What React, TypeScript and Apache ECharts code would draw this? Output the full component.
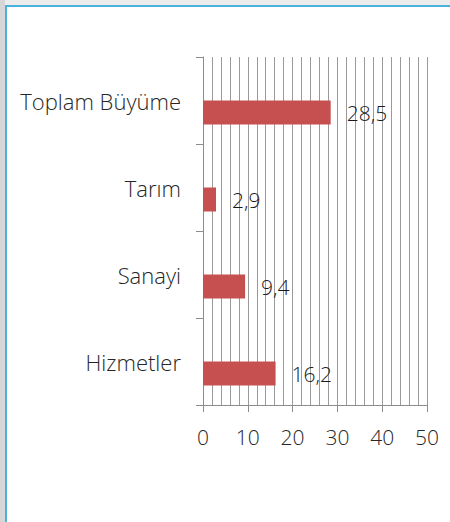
import React, { useEffect, useRef } from "react";
import * as echarts from "echarts";

const categories = ["Toplam Büyüme", "Tarım", "Sanayi", "Hizmetler"];
const values = [28.5, 2.9, 9.4, 16.2];
const placeholder = [null, null, null, null];
const xMin = 0;
const xMax = 50;
const xInterval = 10;

export default function App() {
  const ref = useRef<HTMLDivElement>(null);
  useEffect(() => {
    if (!ref.current) return;
    const chart = echarts.init(ref.current, null, { renderer: "svg" });
    const font = "'Open Sans', 'Noto Sans', sans-serif";
    const textStyle = { fontSize: 21, color: "#262626", fontFamily: font, fontWeight: 300 };
    chart.setOption({
      animation: false,
      backgroundColor: "#ffffff",
      grid: { left: 203, right: 23, top: 57, bottom: 117, containLabel: false },
      xAxis: {
        type: "value",
        min: xMin,
        max: xMax,
        interval: xInterval,
        axisLine: { show: true, lineStyle: { color: "#8c8c8c", width: 1 } },
        axisTick: { show: true, length: 7, lineStyle: { color: "#8c8c8c" } },
        axisLabel: { margin: 21, ...textStyle },
        splitLine: { show: true, lineStyle: { color: "#9a9a9a", width: 1 } },
        minorTick: { show: false, splitNumber: 5 },
        minorSplitLine: { show: true, lineStyle: { color: "#9a9a9a", width: 1 } },
      },
      yAxis: {
        type: "category",
        data: categories,
        inverse: true,
        axisLine: { show: true, lineStyle: { color: "#8c8c8c", width: 1 } },
        axisTick: { show: true, length: 7, lineStyle: { color: "#8c8c8c" } },
        axisLabel: { margin: 22, ...textStyle, fontSize: 22 },
        splitLine: { show: false },
      },
      series: [
        {
          type: "bar",
          data: placeholder,
          barWidth: 24,
          barGap: "0%",
          itemStyle: { color: "#c0504d" },
        },
        {
          type: "bar",
          data: values,
          barWidth: 24,
          barGap: "0%",
          itemStyle: { color: "#c5504f" },
          label: {
            show: true,
            position: "right",
            distance: 16,
            ...textStyle,
            color: "#1a1a1a",
            formatter: (p: any) => String(p.value).replace(".", ","),
          },
        },
      ],
      graphic: [
        { type: "rect", left: 0, top: 0, shape: { width: 450, height: 5 }, style: { fill: "#ececec" }, silent: true },
        { type: "rect", left: 0, top: 0, shape: { width: 5, height: 522 }, style: { fill: "#d6d6d6" }, silent: true },
        { type: "rect", left: 5, top: 5, shape: { width: 445, height: 2 }, style: { fill: "#4ab0dc" }, silent: true },
        { type: "rect", left: 5, top: 5, shape: { width: 2, height: 517 }, style: { fill: "#4ab0dc" }, silent: true },
      ],
    });
    return () => chart.dispose();
  }, []);
  return (
    <div
      ref={ref}
      style={{ position: "fixed", left: 0, top: 0, width: 450, height: 522 }}
    />
  );
}
